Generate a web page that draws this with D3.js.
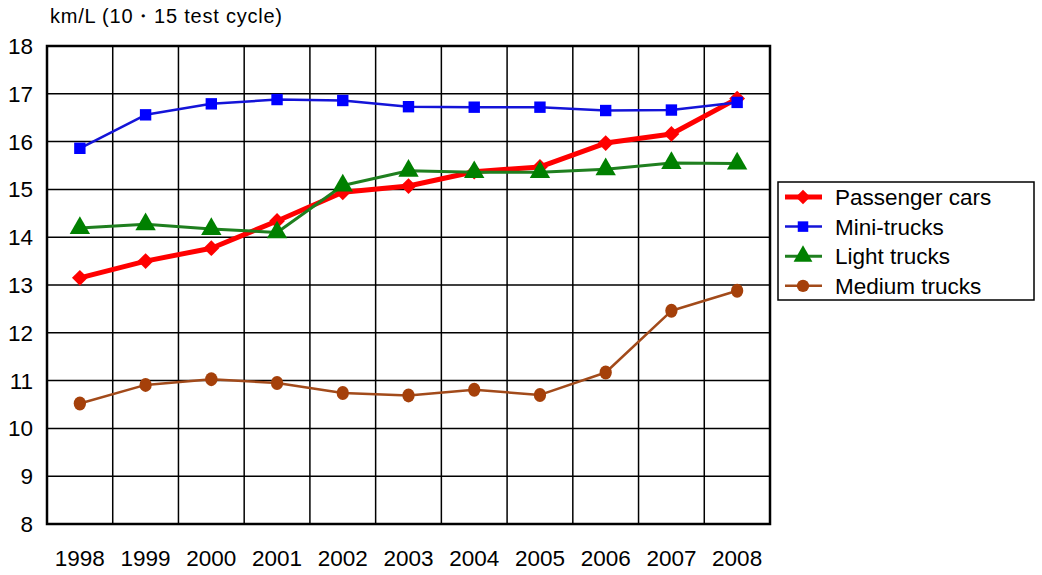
<!DOCTYPE html>
<html><head><meta charset="utf-8">
<script src="https://cdn.jsdelivr.net/npm/d3@7/dist/d3.min.js"></script>
<style>body{margin:0;background:#fff}svg{display:block}text{font-family:"Liberation Sans",Arial,sans-serif;fill:#000}</style>
</head><body><svg id="c" width="1042" height="575"></svg>
<script>
const years = ["1998","1999","2000","2001","2002","2003","2004","2005","2006","2007","2008"];
const yTicks = [8,9,10,11,12,13,14,15,16,17,18];
const passengerCars = [13.15,13.5,13.77,14.34,14.94,15.07,15.37,15.47,15.97,16.16,16.9];
const miniTrucks = [15.86,16.56,16.79,16.88,16.86,16.73,16.72,16.72,16.65,16.66,16.82];
const lightTrucks = [14.19,14.27,14.17,14.1,15.08,15.39,15.36,15.36,15.42,15.55,15.54];
const mediumTrucks = [10.52,10.91,11.03,10.95,10.74,10.69,10.81,10.7,11.17,12.46,12.88];
const seriesNames = ["Passenger cars","Mini-trucks","Light trucks","Medium trucks"];
const yTitle = "km/L (10・15 test cycle)";

const series = [
  {name:seriesNames[0], values:passengerCars, line:"#ff0000", fill:"#ff0000", w:5, sym:d3.symbolSquare, size:125, rot:45},
  {name:seriesNames[1], values:miniTrucks, line:"#1414d8", fill:"#0000ff", w:2.5, sym:d3.symbolSquare, size:130, rot:0},
  {name:seriesNames[2], values:lightTrucks, line:"#1f7f1f", fill:"#008000", w:3, sym:d3.symbolTriangle, size:180, rot:0},
  {name:seriesNames[3], values:mediumTrucks, line:"#a24a1a", fill:"#a5400a", w:2.5, sym:d3.symbolCircle, size:140, rot:0}
];

const svg = d3.select("#c");
const L=47, R=770, T=46, B=524;
const x = d3.scaleBand().domain(years).range([L,R]);
const y = d3.scaleLinear().domain([8,18]).range([B,T]);

// grid
const g = svg.append("g");
g.selectAll("line.h").data(yTicks).join("line")
  .attr("x1",L).attr("x2",R).attr("y1",d=>y(d)).attr("y2",d=>y(d))
  .attr("stroke","#000").attr("stroke-width",1.5);
g.selectAll("line.v").data(years.slice(1)).join("line")
  .attr("x1",d=>x(d)).attr("x2",d=>x(d)).attr("y1",T).attr("y2",B)
  .attr("stroke","#000").attr("stroke-width",1.5);
g.append("rect").attr("x",L).attr("y",T).attr("width",R-L).attr("height",B-T)
  .attr("fill","none").attr("stroke","#000").attr("stroke-width",2.5);

// axes labels
svg.append("g").selectAll("text").data(yTicks).join("text")
  .attr("x",33).attr("y",d=>y(d)+8).attr("text-anchor","end")
  .attr("font-size",22.5).text(d=>d);
svg.append("g").selectAll("text").data(years).join("text")
  .attr("x",d=>x(d)+x.bandwidth()/2).attr("y",566).attr("text-anchor","middle")
  .attr("font-size",22.5).text(d=>d);
svg.append("text").attr("x",50).attr("y",23).attr("font-size",20).attr("textLength",232).text(yTitle);

// series
const line = d3.line().x((d,i)=>x(years[i])+x.bandwidth()/2).y(d=>y(d));
series.forEach(s=>{
  const sg = svg.append("g");
  sg.append("path").attr("d",line(s.values)).attr("fill","none")
    .attr("stroke",s.line).attr("stroke-width",s.w).attr("stroke-linejoin","round");
  sg.selectAll("path.m").data(s.values).join("path")
    .attr("d",d3.symbol().type(s.sym).size(s.size))
    .attr("transform",(d,i)=>`translate(${x(years[i])+x.bandwidth()/2},${y(d)}) rotate(${s.rot})`+(s.sym===d3.symbolCircle?" scale(0.92,1.05)":""))
    .attr("fill",s.fill);
});

// legend
const lg = svg.append("g");
lg.append("rect").attr("x",778).attr("y",182).attr("width",256).attr("height",118)
  .attr("fill","#fff").attr("stroke","#000").attr("stroke-width",1.5);
series.forEach((s,i)=>{
  const cy = 197 + i*29.6;
  lg.append("line").attr("x1",785).attr("x2",822).attr("y1",cy).attr("y2",cy)
    .attr("stroke",s.line).attr("stroke-width",s.w);
  lg.append("path").attr("d",d3.symbol().type(s.sym).size(s.size*0.85))
    .attr("transform",`translate(803,${cy}) rotate(${s.rot})`).attr("fill",s.fill);
  lg.append("text").attr("x",835).attr("y",cy+8).attr("font-size",22.5).text(s.name);
});
</script></body></html>
